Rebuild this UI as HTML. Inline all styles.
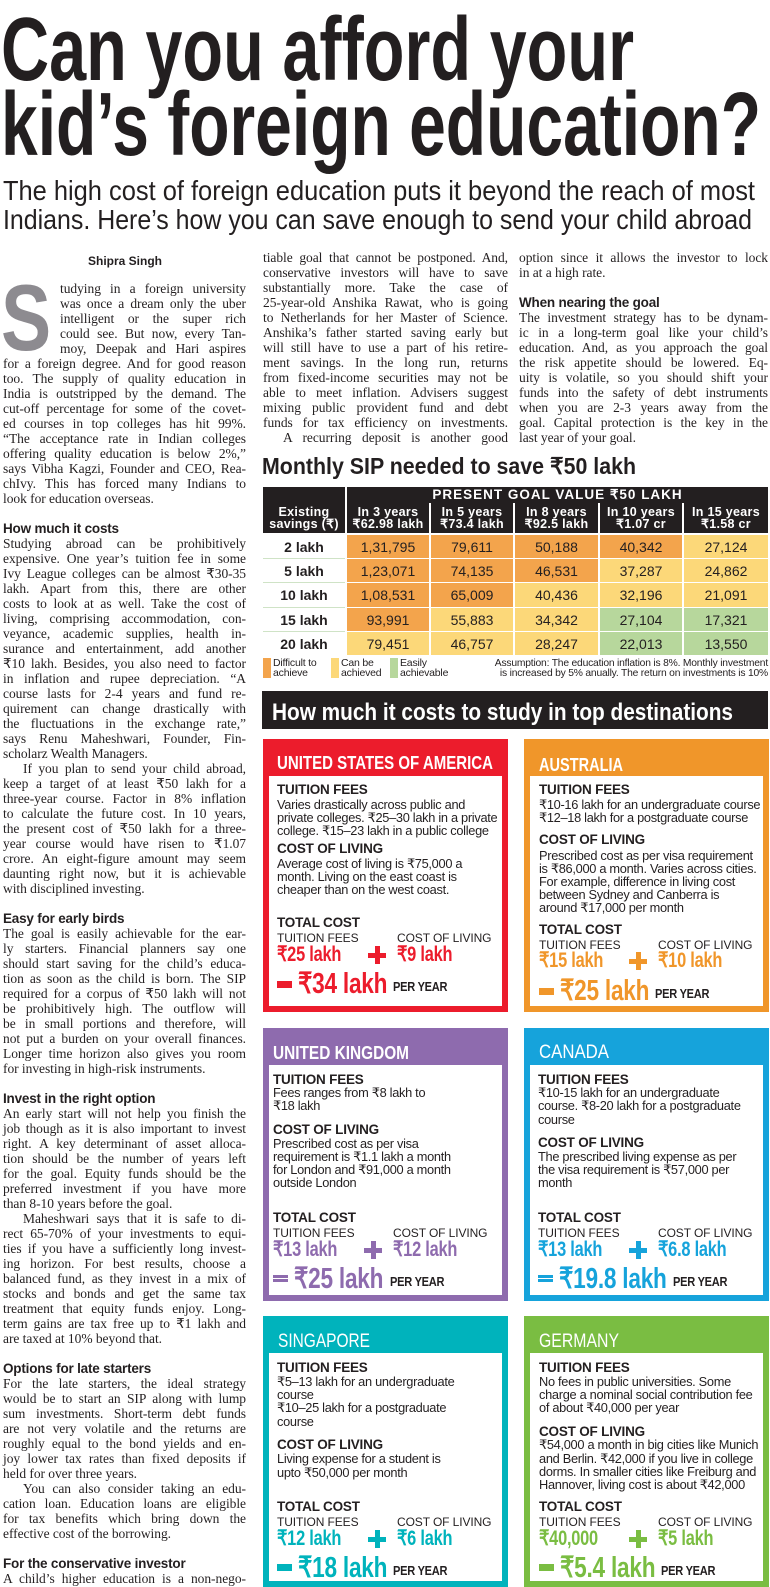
<!DOCTYPE html>
<html><head><meta charset="utf-8"><style>
*{margin:0;padding:0;box-sizing:border-box}
body{width:770px;height:1587px;overflow:hidden;background:#fff;color:#231f20;position:relative;font-family:"Liberation Sans",sans-serif}
.col{position:absolute;font-family:"Liberation Serif",serif;font-size:13.5px;letter-spacing:-0.05px}
.col div{height:15px;line-height:15px;white-space:nowrap;text-align:justify;text-align-last:justify}
.col .e{text-align-last:left}
.col .h{font-family:"Liberation Sans",sans-serif;font-weight:bold;font-size:13.5px;text-align-last:left;letter-spacing:-0.2px}
.col .i{padding-left:20px}
.col .d{padding-left:57px}
.a{position:absolute;white-space:nowrap}
.card{position:absolute;width:245px}
.card .in{position:absolute;left:6px;right:6px;top:37px;bottom:6px;background:#fff}
.card .t{position:absolute;white-space:nowrap;line-height:14px;font-size:12.8px;letter-spacing:-0.3px;color:#231f20}
.card .hd{font-weight:bold;font-size:13.5px;letter-spacing:-0.2px}
.card .lb{font-size:12px;letter-spacing:-0.1px}
.card .v{font-weight:bold;font-size:21px;line-height:22px;transform:scaleX(.78);transform-origin:0 50%}
.card .tot{font-weight:bold;font-size:29px;line-height:30px;transform:scaleX(.78);transform-origin:0 50%}
.card .py{font-weight:bold;font-size:13px;transform:scaleX(.85);transform-origin:0 50%}
.pl{position:absolute;width:18px;height:18px}
.eq{position:absolute;width:15px;height:7px}
.tb{position:absolute;display:flex;align-items:center;justify-content:center;font-size:14px;white-space:nowrap}
.hh{color:#fff;font-weight:bold;font-size:12.5px;line-height:12px;text-align:center;flex-direction:column;letter-spacing:.3px}
.lg{position:absolute;font-size:10.5px;line-height:9.5px;letter-spacing:-0.2px}
</style></head><body>

<svg class="a" style="left:0;top:0" width="770" height="240">
<g font-family="Liberation Sans, sans-serif" font-weight="bold" fill="#231f20">
<text x="1" y="80" font-size="90" textLength="633" lengthAdjust="spacingAndGlyphs">Can you afford your</text>
<text x="1" y="155" font-size="90" textLength="760" lengthAdjust="spacingAndGlyphs">kid’s foreign education?</text>
</g>
<g font-family="Liberation Sans, sans-serif" fill="#231f20" font-size="28">
<text x="3" y="200" textLength="752" lengthAdjust="spacingAndGlyphs">The high cost of foreign education puts it beyond the reach of most</text>
<text x="3" y="229" textLength="749" lengthAdjust="spacingAndGlyphs">Indians. Here’s how you can save enough to send your child abroad</text>
</g>
</svg>

<div class="a" style="left:88px;top:254px;font-weight:bold;font-size:12px;line-height:14px">Shipra Singh</div>
<div class="a" style="left:1px;top:271px;font-weight:bold;font-size:94px;line-height:94px;color:#8d8b90;transform:scaleX(.8);transform-origin:0 0">S</div>

<div class="col" style="left:3px;top:280.5px;width:243px">
<div class="d">tudying in a foreign university</div>
<div class="d">was once a dream only the uber</div>
<div class="d">intelligent or the super rich</div>
<div class="d">could see. But now, every Tan-</div>
<div class="d">moy, Deepak and Hari aspires</div>
<div>for a foreign degree. And for good reason</div>
<div>too. The supply of quality education in</div>
<div>India is outstripped by the demand. The</div>
<div>cut-off percentage for some of the covet-</div>
<div>ed courses in top colleges has hit 99%.</div>
<div>“The acceptance rate in Indian colleges</div>
<div>offering quality education is below 2%,”</div>
<div>says Vibha Kagzi, Founder and CEO, Rea-</div>
<div>chIvy. This has forced many Indians to</div>
<div class="e">look for education overseas.</div>
<div class="e">&nbsp;</div>
<div class="h">How much it costs</div>
<div>Studying abroad can be prohibitively</div>
<div>expensive. One year’s tuition fee in some</div>
<div>Ivy League colleges can be almost ₹30-35</div>
<div>lakh. Apart from this, there are other</div>
<div>costs to look at as well. Take the cost of</div>
<div>living, comprising accommodation, con-</div>
<div>veyance, academic supplies, health in-</div>
<div>surance and entertainment, add another</div>
<div>₹10 lakh. Besides, you also need to factor</div>
<div>in inflation and rupee depreciation. “A</div>
<div>course lasts for 2-4 years and fund re-</div>
<div>quirement can change drastically with</div>
<div>the fluctuations in the exchange rate,”</div>
<div>says Renu Maheshwari, Founder, Fin-</div>
<div class="e">scholarz Wealth Managers.</div>
<div class="i">If you plan to send your child abroad,</div>
<div>keep a target of at least ₹50 lakh for a</div>
<div>three-year course. Factor in 8% inflation</div>
<div>to calculate the future cost. In 10 years,</div>
<div>the present cost of ₹50 lakh for a three-</div>
<div>year course would have risen to ₹1.07</div>
<div>crore. An eight-figure amount may seem</div>
<div>daunting right now, but it is achievable</div>
<div class="e">with disciplined investing.</div>
<div class="e">&nbsp;</div>
<div class="h">Easy for early birds</div>
<div>The goal is easily achievable for the ear-</div>
<div>ly starters. Financial planners say one</div>
<div>should start saving for the child’s educa-</div>
<div>tion as soon as the child is born. The SIP</div>
<div>required for a corpus of ₹50 lakh will not</div>
<div>be prohibitively high. The outflow will</div>
<div>be in small portions and therefore, will</div>
<div>not put a burden on your overall finances.</div>
<div>Longer time horizon also gives you room</div>
<div class="e">for investing in high-risk instruments.</div>
<div class="e">&nbsp;</div>
<div class="h">Invest in the right option</div>
<div>An early start will not help you finish the</div>
<div>job though as it is also important to invest</div>
<div>right. A key determinant of asset alloca-</div>
<div>tion should be the number of years left</div>
<div>for the goal. Equity funds should be the</div>
<div>preferred investment if you have more</div>
<div class="e">than 8-10 years before the goal.</div>
<div class="i">Maheshwari says that it is safe to di-</div>
<div>rect 65-70% of your investments to equi-</div>
<div>ties if you have a sufficiently long invest-</div>
<div>ing horizon. For best results, choose a</div>
<div>balanced fund, as they invest in a mix of</div>
<div>stocks and bonds and get the same tax</div>
<div>treatment that equity funds enjoy. Long-</div>
<div>term gains are tax free up to ₹1 lakh and</div>
<div class="e">are taxed at 10% beyond that.</div>
<div class="e">&nbsp;</div>
<div class="h">Options for late starters</div>
<div>For the late starters, the ideal strategy</div>
<div>would be to start an SIP along with lump</div>
<div>sum investments. Short-term debt funds</div>
<div>are not very volatile and the returns are</div>
<div>roughly equal to the bond yields and en-</div>
<div>joy lower tax rates than fixed deposits if</div>
<div class="e">held for over three years.</div>
<div class="i">You can also consider taking an edu-</div>
<div>cation loan. Education loans are eligible</div>
<div>for tax benefits which bring down the</div>
<div class="e">effective cost of the borrowing.</div>
<div class="e">&nbsp;</div>
<div class="h">For the conservative investor</div>
<div>A child’s higher education is a non-nego-</div>
</div>

<div class="col" style="left:263px;top:249.5px;width:245px">
<div>tiable goal that cannot be postponed. And,</div>
<div>conservative investors will have to save</div>
<div>substantially more. Take the case of</div>
<div>25-year-old Anshika Rawat, who is going</div>
<div>to Netherlands for her Master of Science.</div>
<div>Anshika’s father started saving early but</div>
<div>will still have to use a part of his retire-</div>
<div>ment savings. In the long run, returns</div>
<div>from fixed-income securities may not be</div>
<div>able to meet inflation. Advisers suggest</div>
<div>mixing public provident fund and debt</div>
<div>funds for tax efficiency on investments.</div>
<div class="i">A recurring deposit is another good</div>
</div>

<div class="col" style="left:519px;top:249.5px;width:249px">
<div>option since it allows the investor to lock</div>
<div class="e">in at a high rate.</div>
<div class="e">&nbsp;</div>
<div class="h">When nearing the goal</div>
<div>The investment strategy has to be dynam-</div>
<div>ic in a long-term goal like your child’s</div>
<div>education. And, as you approach the goal</div>
<div>the risk appetite should be lowered. Eq-</div>
<div>uity is volatile, so you should shift your</div>
<div>funds into the safety of debt instruments</div>
<div>when you are 2-3 years away from the</div>
<div>goal. Capital protection is the key in the</div>
<div class="e">last year of your goal.</div>
</div>

<svg class="a" style="left:258px;top:450px" width="512" height="40">
<text x="4" y="24" font-family="Liberation Sans, sans-serif" font-weight="bold" font-size="23" fill="#231f20" textLength="374" lengthAdjust="spacingAndGlyphs">Monthly SIP needed to save ₹50 lakh</text>
</svg>

<div class="a" style="left:263px;top:487px;width:505px;height:46px;background:#231f20"></div>
<div class="a" style="left:345px;top:503px;width:2px;height:30px;background:#fff"></div>
<div class="a" style="left:429px;top:503px;width:2px;height:30px;background:#fff"></div>
<div class="a" style="left:513px;top:503px;width:2px;height:30px;background:#fff"></div>
<div class="a" style="left:598px;top:503px;width:2px;height:30px;background:#fff"></div>
<div class="a" style="left:682px;top:503px;width:2px;height:30px;background:#fff"></div>
<div class="a" style="left:345px;top:487px;width:2px;height:46px;background:#fff"></div>
<div class="tb hh" style="left:347px;top:487px;width:421px;height:16px;font-size:13.5px;letter-spacing:1px">PRESENT GOAL VALUE ₹50 LAKH</div>
<div class="tb hh" style="left:263px;top:503px;width:82px;height:30px">Existing<br>savings (₹)</div>
<div class="tb hh" style="left:347px;top:503px;width:82px;height:30px">In 3 years<br>₹62.98 lakh</div>
<div class="tb hh" style="left:431px;top:503px;width:82px;height:30px">In 5 years<br>₹73.4 lakh</div>
<div class="tb hh" style="left:515px;top:503px;width:83px;height:30px">In 8 years<br>₹92.5 lakh</div>
<div class="tb hh" style="left:600px;top:503px;width:82px;height:30px">In 10 years<br>₹1.07 cr</div>
<div class="tb hh" style="left:684px;top:503px;width:84px;height:30px">In 15 years<br>₹1.58 cr</div>

<div class="a" style="left:263px;top:558px;width:82px;height:1px;background:#cfe3c6"></div>
<div class="a" style="left:263px;top:582px;width:82px;height:1px;background:#cfe3c6"></div>
<div class="a" style="left:263px;top:607px;width:82px;height:1px;background:#cfe3c6"></div>
<div class="a" style="left:263px;top:631px;width:82px;height:1px;background:#cfe3c6"></div>

<div class="tb" style="left:263px;top:535px;width:82px;height:23px;font-weight:bold">2 lakh</div>
<div class="tb" style="left:347px;top:535px;width:82px;height:23px;background:#f3a44c">1,31,795</div>
<div class="tb" style="left:431px;top:535px;width:82px;height:23px;background:#f3a44c">79,611</div>
<div class="tb" style="left:515px;top:535px;width:83px;height:23px;background:#f3a44c">50,188</div>
<div class="tb" style="left:600px;top:535px;width:82px;height:23px;background:#f3a44c">40,342</div>
<div class="tb" style="left:684px;top:535px;width:84px;height:23px;background:#fcd879">27,124</div>

<div class="tb" style="left:263px;top:559px;width:82px;height:23px;font-weight:bold">5 lakh</div>
<div class="tb" style="left:347px;top:559px;width:82px;height:23px;background:#f3a44c">1,23,071</div>
<div class="tb" style="left:431px;top:559px;width:82px;height:23px;background:#f3a44c">74,135</div>
<div class="tb" style="left:515px;top:559px;width:83px;height:23px;background:#f3a44c">46,531</div>
<div class="tb" style="left:600px;top:559px;width:82px;height:23px;background:#fcd879">37,287</div>
<div class="tb" style="left:684px;top:559px;width:84px;height:23px;background:#fcd879">24,862</div>

<div class="tb" style="left:263px;top:583px;width:82px;height:24px;font-weight:bold">10 lakh</div>
<div class="tb" style="left:347px;top:583px;width:82px;height:24px;background:#f3a44c">1,08,531</div>
<div class="tb" style="left:431px;top:583px;width:82px;height:24px;background:#f3a44c">65,009</div>
<div class="tb" style="left:515px;top:583px;width:83px;height:24px;background:#fcd879">40,436</div>
<div class="tb" style="left:600px;top:583px;width:82px;height:24px;background:#fcd879">32,196</div>
<div class="tb" style="left:684px;top:583px;width:84px;height:24px;background:#fcd879">21,091</div>

<div class="tb" style="left:263px;top:608px;width:82px;height:23px;font-weight:bold">15 lakh</div>
<div class="tb" style="left:347px;top:608px;width:82px;height:23px;background:#f3a44c">93,991</div>
<div class="tb" style="left:431px;top:608px;width:82px;height:23px;background:#fcd879">55,883</div>
<div class="tb" style="left:515px;top:608px;width:83px;height:23px;background:#fcd879">34,342</div>
<div class="tb" style="left:600px;top:608px;width:82px;height:23px;background:#b7d79c">27,104</div>
<div class="tb" style="left:684px;top:608px;width:84px;height:23px;background:#b7d79c">17,321</div>

<div class="tb" style="left:263px;top:632px;width:82px;height:23px;font-weight:bold">20 lakh</div>
<div class="tb" style="left:347px;top:632px;width:82px;height:23px;background:#fcd879">79,451</div>
<div class="tb" style="left:431px;top:632px;width:82px;height:23px;background:#fcd879">46,757</div>
<div class="tb" style="left:515px;top:632px;width:83px;height:23px;background:#fcd879">28,247</div>
<div class="tb" style="left:600px;top:632px;width:82px;height:23px;background:#b7d79c">22,013</div>
<div class="tb" style="left:684px;top:632px;width:84px;height:23px;background:#b7d79c">13,550</div>

<div class="a" style="left:263px;top:658px;width:8px;height:20px;background:#f3a44c"></div>
<div class="lg" style="left:273px;top:659px">Difficult to<br>achieve</div>
<div class="a" style="left:331px;top:658px;width:8px;height:20px;background:#fcd879"></div>
<div class="lg" style="left:341px;top:659px">Can be<br>achieved</div>
<div class="a" style="left:390px;top:658px;width:8px;height:20px;background:#b7d79c"></div>
<div class="lg" style="left:400px;top:659px">Easily<br>achievable</div>
<div class="lg" style="left:460px;top:659px;width:308px;text-align:right;font-size:10.3px">Assumption: The education inflation is 8%. Monthly investment<br>is increased by 5% anually. The return on investments is 10%</div>

<div class="a" style="left:262px;top:691px;width:506px;height:38px;background:#231f20"></div>
<svg class="a" style="left:262px;top:691px" width="506" height="38">
<text x="10" y="29" font-family="Liberation Sans, sans-serif" font-weight="bold" font-size="24" fill="#fff" textLength="461" lengthAdjust="spacingAndGlyphs">How much it costs to study in top destinations</text>
</svg>

<!-- USA -->
<div class="card" style="left:263px;top:739px;height:273px;background:#ec1c2c">
<div class="in"></div>
<svg class="a" style="left:0;top:0" width="245" height="37"><text x="14" y="30" font-family="Liberation Sans, sans-serif" font-weight="bold" font-size="18" fill="#fff" textLength="216" lengthAdjust="spacingAndGlyphs">UNITED STATES OF AMERICA</text></svg>
<div class="t hd" style="left:14px;top:44px">TUITION FEES</div>
<div class="t" style="left:14px;top:59px">Varies drastically across public and</div>
<div class="t" style="left:14px;top:72px">private colleges. ₹25–30 lakh in a private</div>
<div class="t" style="left:14px;top:85px">college. ₹15–23 lakh in a public college</div>
<div class="t hd" style="left:14px;top:103px">COST OF LIVING</div>
<div class="t" style="left:14px;top:118px">Average cost of living is ₹75,000 a</div>
<div class="t" style="left:14px;top:131px">month. Living on the east coast is</div>
<div class="t" style="left:14px;top:144px">cheaper than on the west coast.</div>
<div class="t hd" style="left:14px;top:177px">TOTAL COST</div>
<div class="t lb" style="left:14px;top:192px">TUITION FEES</div>
<div class="t lb" style="left:134px;top:192px">COST OF LIVING</div>
<div class="t v" style="left:14px;top:205px;color:#ec1c2c">₹25 lakh</div>
<div class="pl" style="left:105px;top:207px;background:linear-gradient(#ec1c2c,#ec1c2c) center/18px 5px no-repeat,linear-gradient(#ec1c2c,#ec1c2c) center/5px 18px no-repeat"></div>
<div class="t v" style="left:134px;top:205px;color:#ec1c2c">₹9 lakh</div>
<div class="eq" style="left:14px;top:242px;background:#ec1c2c"></div>
<div class="t tot" style="left:35px;top:230px;color:#ec1c2c">₹34 lakh</div>
<div class="t py" style="left:130px;top:241px">PER YEAR</div>
</div>

<!-- AUSTRALIA -->
<div class="card" style="left:524px;top:739px;height:273px;background:#f0962a">
<div class="in"></div>
<svg class="a" style="left:0;top:0" width="245" height="37"><text x="15" y="32" font-family="Liberation Sans, sans-serif" font-weight="bold" font-size="18" fill="#fff" textLength="84" lengthAdjust="spacingAndGlyphs">AUSTRALIA</text></svg>
<div class="t hd" style="left:15px;top:44px">TUITION FEES</div>
<div class="t" style="left:15px;top:59px">₹10-16 lakh for an undergraduate course</div>
<div class="t" style="left:15px;top:72px">₹12–18 lakh for a postgraduate course</div>
<div class="t hd" style="left:15px;top:94px">COST OF LIVING</div>
<div class="t" style="left:15px;top:110px">Prescribed cost as per visa requirement</div>
<div class="t" style="left:15px;top:123px">is ₹86,000 a month. Varies across cities.</div>
<div class="t" style="left:15px;top:136px">For example, difference in living cost</div>
<div class="t" style="left:15px;top:149px">between Sydney and Canberra is</div>
<div class="t" style="left:15px;top:162px">around ₹17,000 per month</div>
<div class="t hd" style="left:15px;top:184px">TOTAL COST</div>
<div class="t lb" style="left:15px;top:199px">TUITION FEES</div>
<div class="t lb" style="left:134px;top:199px">COST OF LIVING</div>
<div class="t v" style="left:15px;top:211px;color:#f0962a">₹15 lakh</div>
<div class="pl" style="left:105px;top:213px;background:linear-gradient(#f0962a,#f0962a) center/18px 5px no-repeat,linear-gradient(#f0962a,#f0962a) center/5px 18px no-repeat"></div>
<div class="t v" style="left:134px;top:211px;color:#f0962a">₹10 lakh</div>
<div class="eq" style="left:15px;top:249px;background:#f0962a"></div>
<div class="t tot" style="left:36px;top:237px;color:#f0962a">₹25 lakh</div>
<div class="t py" style="left:131px;top:248px">PER YEAR</div>
</div>

<!-- UK -->
<div class="card" style="left:263px;top:1028px;height:273px;background:#8e6bae">
<div class="in"></div>
<svg class="a" style="left:0;top:0" width="245" height="37"><text x="10" y="31" font-family="Liberation Sans, sans-serif" font-weight="bold" font-size="18" fill="#fff" textLength="136" lengthAdjust="spacingAndGlyphs">UNITED KINGDOM</text></svg>
<div class="t hd" style="left:10px;top:45px">TUITION FEES</div>
<div class="t" style="left:10px;top:58px">Fees ranges from ₹8 lakh to</div>
<div class="t" style="left:10px;top:71px">₹18 lakh</div>
<div class="t hd" style="left:10px;top:95px">COST OF LIVING</div>
<div class="t" style="left:10px;top:109px">Prescribed cost as per visa</div>
<div class="t" style="left:10px;top:122px">requirement is ₹1.1 lakh a month</div>
<div class="t" style="left:10px;top:135px">for London and ₹91,000 a month</div>
<div class="t" style="left:10px;top:148px">outside London</div>
<div class="t hd" style="left:10px;top:183px">TOTAL COST</div>
<div class="t lb" style="left:10px;top:198px">TUITION FEES</div>
<div class="t lb" style="left:130px;top:198px">COST OF LIVING</div>
<div class="t v" style="left:10px;top:211px;color:#8e6bae">₹13 lakh</div>
<div class="pl" style="left:101px;top:213px;background:linear-gradient(#8e6bae,#8e6bae) center/18px 5px no-repeat,linear-gradient(#8e6bae,#8e6bae) center/5px 18px no-repeat"></div>
<div class="t v" style="left:130px;top:211px;color:#8e6bae">₹12 lakh</div>
<div class="eq" style="left:10px;top:247px;background:linear-gradient(#8e6bae,#8e6bae) top/15px 3px no-repeat,linear-gradient(#8e6bae,#8e6bae) bottom/15px 3px no-repeat"></div>
<div class="t tot" style="left:31px;top:236px;color:#8e6bae">₹25 lakh</div>
<div class="t py" style="left:127px;top:247px">PER YEAR</div>
</div>

<!-- CANADA -->
<div class="card" style="left:524px;top:1028px;height:273px;background:#16a3db">
<div class="in"></div>
<svg class="a" style="left:0;top:0" width="245" height="37"><text x="15" y="30" font-family="Liberation Sans, sans-serif" font-size="19" fill="#fff" textLength="70" lengthAdjust="spacingAndGlyphs">CANADA</text></svg>
<div class="t hd" style="left:14px;top:45px">TUITION FEES</div>
<div class="t" style="left:14px;top:58px">₹10-15 lakh for an undergraduate</div>
<div class="t" style="left:14px;top:71px">course. ₹8-20 lakh for a postgraduate</div>
<div class="t" style="left:14px;top:85px">course</div>
<div class="t hd" style="left:14px;top:108px">COST OF LIVING</div>
<div class="t" style="left:14px;top:122px">The prescribed living expense as per</div>
<div class="t" style="left:14px;top:135px">the visa requirement is ₹57,000 per</div>
<div class="t" style="left:14px;top:148px">month</div>
<div class="t hd" style="left:14px;top:183px">TOTAL COST</div>
<div class="t lb" style="left:14px;top:198px">TUITION FEES</div>
<div class="t lb" style="left:134px;top:198px">COST OF LIVING</div>
<div class="t v" style="left:14px;top:211px;color:#16a3db">₹13 lakh</div>
<div class="pl" style="left:105px;top:213px;background:linear-gradient(#16a3db,#16a3db) center/18px 5px no-repeat,linear-gradient(#16a3db,#16a3db) center/5px 18px no-repeat"></div>
<div class="t v" style="left:134px;top:211px;color:#16a3db">₹6.8 lakh</div>
<div class="eq" style="left:14px;top:247px;background:linear-gradient(#16a3db,#16a3db) top/15px 3px no-repeat,linear-gradient(#16a3db,#16a3db) bottom/15px 3px no-repeat"></div>
<div class="t tot" style="left:35px;top:236px;color:#16a3db">₹19.8 lakh</div>
<div class="t py" style="left:149px;top:247px">PER YEAR</div>
</div>

<!-- SINGAPORE -->
<div class="card" style="left:263px;top:1316px;height:271px;background:#00b3bc">
<div class="in"></div>
<svg class="a" style="left:0;top:0" width="245" height="37"><text x="15" y="31" font-family="Liberation Sans, sans-serif" font-size="19" fill="#fff" textLength="92" lengthAdjust="spacingAndGlyphs">SINGAPORE</text></svg>
<div class="t hd" style="left:14px;top:45px">TUITION FEES</div>
<div class="t" style="left:14px;top:59px">₹5–13 lakh for an undergraduate</div>
<div class="t" style="left:14px;top:72px">course</div>
<div class="t" style="left:14px;top:85px">₹10–25 lakh for a postgraduate</div>
<div class="t" style="left:14px;top:99px">course</div>
<div class="t hd" style="left:14px;top:122px">COST OF LIVING</div>
<div class="t" style="left:14px;top:136px">Living expense for a student is</div>
<div class="t" style="left:14px;top:150px">upto ₹50,000 per month</div>
<div class="t hd" style="left:14px;top:184px">TOTAL COST</div>
<div class="t lb" style="left:14px;top:199px">TUITION FEES</div>
<div class="t lb" style="left:134px;top:199px">COST OF LIVING</div>
<div class="t v" style="left:14px;top:212px;color:#00b3bc">₹12 lakh</div>
<div class="pl" style="left:105px;top:214px;background:linear-gradient(#00b3bc,#00b3bc) center/18px 5px no-repeat,linear-gradient(#00b3bc,#00b3bc) center/5px 18px no-repeat"></div>
<div class="t v" style="left:134px;top:212px;color:#00b3bc">₹6 lakh</div>
<div class="eq" style="left:14px;top:248px;background:#00b3bc"></div>
<div class="t tot" style="left:35px;top:237px;color:#00b3bc">₹18 lakh</div>
<div class="t py" style="left:130px;top:248px">PER YEAR</div>
</div>

<!-- GERMANY -->
<div class="card" style="left:524px;top:1316px;height:271px;background:#7abd42">
<div class="in"></div>
<svg class="a" style="left:0;top:0" width="245" height="37"><text x="15" y="31" font-family="Liberation Sans, sans-serif" font-size="19" fill="#fff" textLength="80" lengthAdjust="spacingAndGlyphs">GERMANY</text></svg>
<div class="t hd" style="left:15px;top:45px">TUITION FEES</div>
<div class="t" style="left:15px;top:59px">No fees in public universities. Some</div>
<div class="t" style="left:15px;top:72px">charge a nominal social contribution fee</div>
<div class="t" style="left:15px;top:85px">of about ₹40,000 per year</div>
<div class="t hd" style="left:15px;top:109px">COST OF LIVING</div>
<div class="t" style="left:15px;top:122px">₹54,000 a month in big cities like Munich</div>
<div class="t" style="left:15px;top:136px">and Berlin. ₹42,000 if you live in college</div>
<div class="t" style="left:15px;top:149px">dorms. In smaller cities like Freiburg and</div>
<div class="t" style="left:15px;top:162px">Hannover, living cost is about ₹42,000</div>
<div class="t hd" style="left:15px;top:184px">TOTAL COST</div>
<div class="t lb" style="left:15px;top:199px">TUITION FEES</div>
<div class="t lb" style="left:134px;top:199px">COST OF LIVING</div>
<div class="t v" style="left:15px;top:212px;color:#7abd42">₹40,000</div>
<div class="pl" style="left:105px;top:214px;background:linear-gradient(#7abd42,#7abd42) center/18px 5px no-repeat,linear-gradient(#7abd42,#7abd42) center/5px 18px no-repeat"></div>
<div class="t v" style="left:134px;top:212px;color:#7abd42">₹5 lakh</div>
<div class="eq" style="left:15px;top:248px;background:#7abd42"></div>
<div class="t tot" style="left:36px;top:237px;color:#7abd42">₹5.4 lakh</div>
<div class="t py" style="left:137px;top:248px">PER YEAR</div>
</div>

</body></html>
